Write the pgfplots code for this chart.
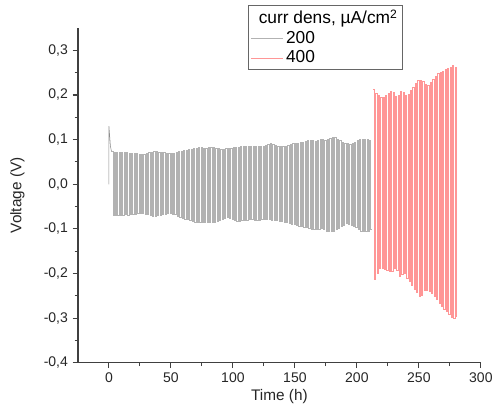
\documentclass[border=0pt]{standalone}
\usepackage{pgfplots}
\pgfplotsset{compat=1.18}
\usepackage{fontspec}
\setmainfont{Liberation Sans}

\definecolor{cyc200}{RGB}{178,178,178}
\definecolor{cyc400}{RGB}{255,150,150}

\begin{document}
\begin{tikzpicture}
\begin{axis}[
    scale only axis,
    width=302pt, height=251pt,
    xmin=-25, xmax=300,
    ymin=-0.4, ymax=0.35,
    axis lines*=left,
    axis line style={black!75, line width=0.9pt},
    tick align=outside,
    major tick length=4pt,
    minor tick length=2.5pt,
    every tick/.style={black!75, line width=0.8pt},
    xtick={0,50,...,300},
    ytick={-0.4,-0.3,...,0.31},
    minor x tick num=1,
    minor y tick num=1,
    /pgf/number format/assume math mode=true,
    ticklabel style={font=\fontsize{10.5}{12}\selectfont, text=black!85},
    yticklabel style={/pgf/number format/.cd, fixed, fixed zerofill, precision=1, use comma},
    xlabel={Time (h)},
    ylabel={Voltage (V)},
    label style={font=\fontsize{11.5}{13}\selectfont, text=black!85},
    xlabel style={at={(rel axis cs:0.5,-0.10)}, anchor=center},
    ylabel style={at={(rel axis cs:-0.15,0.5)}, anchor=center},
    clip=false,
    legend cell align=left,
    legend image code/.code={\draw[#1] (0cm,0cm) -- (0.85cm,0cm);},
    legend style={at={(0.423,1.07)}, anchor=north west, draw=black!60, line width=0.6pt,
        font=\fontsize{13}{15}\selectfont, inner sep=1.5pt, row sep=0pt},
]
\addlegendimage{empty legend}
\addlegendentry{\hspace{-0.72cm}curr dens, µA/cm\textsuperscript{2}}

% start-up spike
\addplot[black!45, line width=0.4pt, forget plot] coordinates {
    (0,0) (0,0.13) (1.2,0.085) (2,0.074)
};

% 200 uA/cm2, 1 h half cycles
\addplot[cyc200, line width=0.25pt, const plot] coordinates {
(2,0.074) (3,-0.069) (4,0.072) (5,-0.069) (6,0.071) (7,-0.070) (8,0.071) (9,-0.070)
(10,0.072) (11,-0.069) (12,0.072) (13,-0.068) (14,0.071) (15,-0.069) (16,0.070) (17,-0.068)
(18,0.070) (19,-0.066) (20,0.070) (21,-0.066) (22,0.069) (23,-0.065) (24,0.068) (25,-0.065)
(26,0.067) (27,-0.064) (28,0.068) (29,-0.066) (30,0.070) (31,-0.068) (32,0.072) (33,-0.070)
(34,0.073) (35,-0.072) (36,0.074) (37,-0.071) (38,0.074) (39,-0.070) (40,0.073) (41,-0.069)
(42,0.072) (43,-0.067) (44,0.071) (45,-0.066) (46,0.070) (47,-0.065) (48,0.069) (49,-0.065)
(50,0.069) (51,-0.066) (52,0.070) (53,-0.068) (54,0.072) (55,-0.071) (56,0.074) (57,-0.074)
(58,0.075) (59,-0.076) (60,0.076) (61,-0.078) (62,0.077) (63,-0.079) (64,0.078) (65,-0.081)
(66,0.078) (67,-0.083) (68,0.080) (69,-0.084) (70,0.081) (71,-0.085) (72,0.082) (73,-0.085)
(74,0.082) (75,-0.084) (76,0.081) (77,-0.085) (78,0.081) (79,-0.086) (80,0.082) (81,-0.086)
(82,0.082) (83,-0.085) (84,0.082) (85,-0.084) (86,0.081) (87,-0.082) (88,0.080) (89,-0.080)
(90,0.079) (91,-0.078) (92,0.079) (93,-0.076) (94,0.080) (95,-0.074) (96,0.080) (97,-0.076)
(98,0.081) (99,-0.079) (100,0.082) (101,-0.081) (102,0.083) (103,-0.083) (104,0.084) (105,-0.082)
(106,0.085) (107,-0.081) (108,0.085) (109,-0.080) (110,0.086) (111,-0.080) (112,0.086) (113,-0.079)
(114,0.085) (115,-0.079) (116,0.085) (117,-0.080) (118,0.086) (119,-0.081) (120,0.086) (121,-0.080)
(122,0.085) (123,-0.079) (124,0.086) (125,-0.078) (126,0.088) (127,-0.078) (128,0.090) (129,-0.079)
(130,0.091) (131,-0.080) (132,0.090) (133,-0.080) (134,0.088) (135,-0.081) (136,0.086) (137,-0.082)
(138,0.085) (139,-0.083) (140,0.085) (141,-0.085) (142,0.086) (143,-0.086) (144,0.088) (145,-0.088)
(146,0.089) (147,-0.089) (148,0.091) (149,-0.090) (150,0.092) (151,-0.091) (152,0.093) (153,-0.093)
(154,0.094) (155,-0.094) (156,0.095) (157,-0.096) (158,0.096) (159,-0.097) (160,0.098) (161,-0.099)
(162,0.099) (163,-0.100) (164,0.098) (165,-0.101) (166,0.097) (167,-0.101) (168,0.099) (169,-0.100)
(170,0.101) (171,-0.099) (172,0.100) (173,-0.101) (174,0.099) (175,-0.104) (176,0.102) (177,-0.105)
(178,0.104) (179,-0.105) (180,0.105) (181,-0.104) (182,0.105) (183,-0.101) (184,0.102) (185,-0.098)
(186,0.098) (187,-0.094) (188,0.095) (189,-0.091) (190,0.092) (191,-0.088) (192,0.091) (193,-0.089)
(194,0.090) (195,-0.091) (196,0.092) (197,-0.094) (198,0.094) (199,-0.097) (200,0.098) (201,-0.100)
(202,0.101) (203,-0.104) (204,0.102) (205,-0.106) (206,0.102) (207,-0.106) (208,0.100) (209,-0.104)
(210,0.099) (211,-0.100) (212,-0.100)
};
\addlegendentry{200}

% 400 uA/cm2, 1 h half cycles
\addplot[cyc400, line width=0.28pt, const plot] coordinates {
(213,0.212) (214,-0.213) (215,0.205) (216,-0.200) (217,0.199) (218,-0.188) (219,0.196) (220,-0.187)
(221,0.194) (222,-0.190) (223,0.199) (224,-0.193) (225,0.205) (226,-0.195) (227,0.209) (228,-0.194)
(229,0.207) (230,-0.188) (231,0.197) (232,-0.192) (233,0.200) (234,-0.207) (235,0.208) (236,-0.202)
(237,0.206) (238,-0.199) (239,0.199) (240,-0.210) (241,0.202) (242,-0.218) (243,0.210) (244,-0.226)
(245,0.218) (246,-0.234) (247,0.226) (248,-0.242) (249,0.233) (250,-0.250) (251,0.234) (252,-0.248)
(253,0.230) (254,-0.238) (255,0.225) (256,-0.237) (257,0.222) (258,-0.240) (259,0.229) (260,-0.243)
(261,0.236) (262,-0.250) (263,0.243) (264,-0.258) (265,0.249) (266,-0.267) (267,0.252) (268,-0.274)
(269,0.254) (270,-0.280) (271,0.257) (272,-0.285) (273,0.259) (274,-0.291) (275,0.263) (276,-0.297)
(277,0.267) (278,-0.301) (279,0.263) (280,-0.295) (280.5,-0.295)
};
\addlegendentry{400}

\path (rel axis cs:-0.1935,-0.161) rectangle (rel axis cs:1.0397,1.0836);
\end{axis}
\end{tikzpicture}
\end{document}
